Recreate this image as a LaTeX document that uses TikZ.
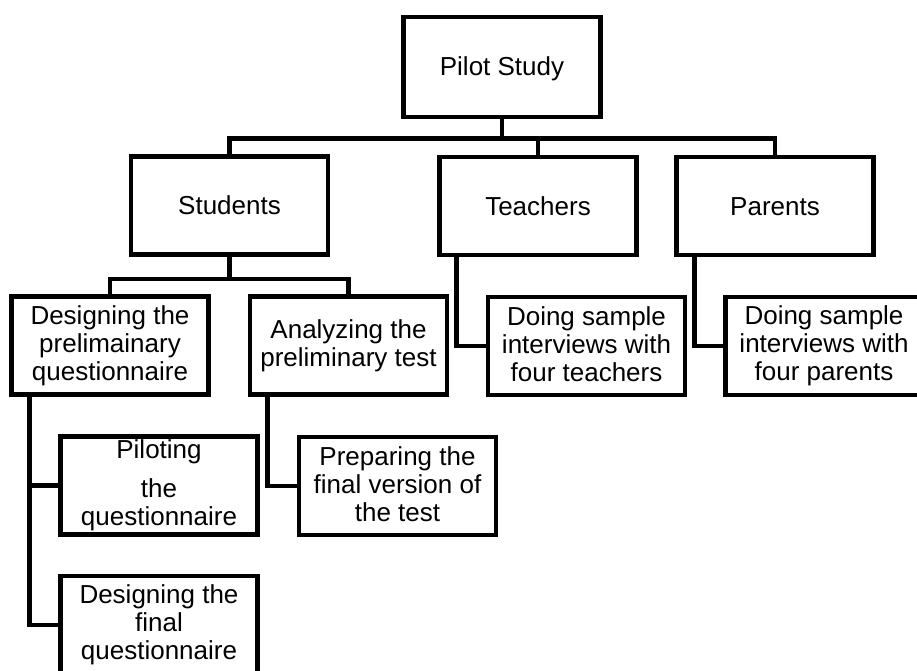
\documentclass[tikz,border=0pt]{standalone}
\usepackage{fontspec}
\setmainfont{Liberation Sans}
\usepackage{tikz}
\usetikzlibrary{calc}
\newcommand{\topstrut}{\rule{0pt}{22pt}}
\newcommand{\botstrut}{\rule[-4pt]{0pt}{4pt}}
\tikzset{
    box/.style={draw, line width=4.8pt, rectangle, inner sep=0pt,
        minimum width=197pt, minimum height=98pt, align=center,
        font=\fontsize{26pt}{28pt}\selectfont,
        execute at begin node=\topstrut, execute at end node=\botstrut},
    link/.style={line width=4.8pt}
}

\begin{document}
\begin{tikzpicture}[x=1pt,y=-1pt]
        \useasboundingbox (0,0) rectangle (917,671);
        \begin{scope}[shift={(0,0)}]
            % top rows
            \draw (502,67)    node[box, minimum height=100pt](pilot){Pilot Study};
            \draw (229.5,205.5) node[box](st){Students};
            \draw (538,206)   node[box](te){Teachers};
            \draw (775,206)   node[box](pa){Parents};

            % second row
            \draw (110,345.5) node[box](dq){Designing the\\prelimainary\\questionnaire};
            \draw (348.5,345.5) node[box](at){Analyzing the\\preliminary test};
            \draw (586.5,346) node[box](ti){Doing sample\\interviews with\\four teachers};
            \draw (824,346)   node[box](pi){Doing sample\\interviews with\\four parents};

            % lower boxes
            \draw (159,485.5) node[box](pq){Piloting\\[11pt]the\\questionnaire};
            \draw (397.5,486) node[box](fv){Preparing the\\final version of\\the test};
            \draw (159,625)   node[box](fq){Designing the\\final\\questionnaire};

            \draw[link] (pilot.south) -- ++(0,19) -| (st.north);
            \draw[link] (pilot.south) -- ++(0,19) -| (te.north);
            \draw[link] (pilot.south) -- ++(0,19) -| (pa.north);
            \draw[link] (st.south) -- ++(0,22) -| (dq.north);
            \draw[link] (st.south) -- ++(0,22) -| (at.north);
            \draw[link] ([xshift=19pt]te.south west) |- (ti.west);
            \draw[link] ([xshift=20pt]pa.south west) |- (pi.west);
            \draw[link] ([xshift=20pt]dq.south west) |- (pq.west);
            \draw[link] ([xshift=20pt]dq.south west) |- (fq.west);
            \draw[link] ([xshift=20pt]at.south west) |- (fv.west);
        \end{scope}
    \end{tikzpicture}
\end{document}
